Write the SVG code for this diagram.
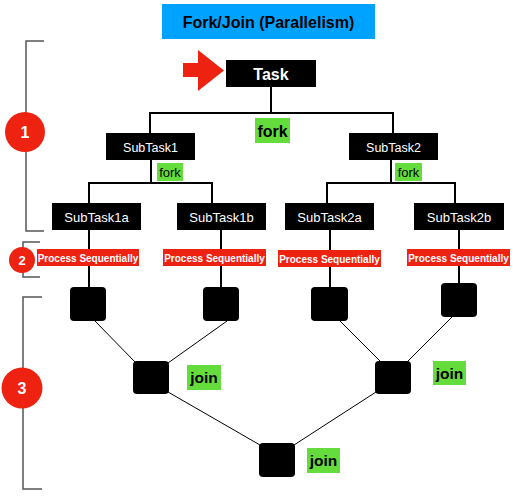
<svg xmlns="http://www.w3.org/2000/svg" width="513" height="503" viewBox="0 0 513 503">
<style>
text{font-family:"Liberation Sans",Arial,sans-serif;text-anchor:middle}
.box{fill:#000}
.wt{fill:#fff}
.bk{fill:#000}
.grn{fill:#64dd3c}
.red{fill:#ee2211}
.tree{stroke:#000;stroke-width:2;fill:none}
.diag{stroke:#000;stroke-width:1;fill:none}
.brk{stroke:#555;stroke-width:1.5;fill:none}
.sq{fill:#000}
</style>
<rect width="513" height="503" fill="#fff"/>
<g id="title">
<rect x="162" y="4" width="213" height="35" fill="#00a2ff"/>
<text x="268.5" y="28" font-size="16" font-weight="bold" class="bk">Fork/Join (Parallelism)</text>
</g>
<g id="brackets">
<path class="brk" d="M44,41 H26 V231 H44"/>
<path class="brk" d="M40,242 H23 V277 H40"/>
<path class="brk" d="M42,297 H23 V489 H42"/>
</g>
<g id="connectors">
<path class="tree" d="M271,87 V113 M150,133 V113 H393 V133"/>
<path class="tree" d="M151,160 V183 M89,203 V183 H212 V203"/>
<path class="tree" d="M391,160 V183 M327,203 V183 H455 V203"/>
<path class="tree" d="M89,230 V287 M221,230 V287 M330,230 V287 M459,230 V283"/>
<path class="diag" d="M95,321 L135,362 M227,321 L168,363 M340,321 L381,362 M452,317 L407,362 M168,392 L260,445 M376,392 L294,445"/>
</g>
<g id="marker1">
<circle cx="25" cy="132" r="20" class="red"/>
<text x="25" y="138" font-size="16" font-weight="bold" class="wt">1</text>
</g>
<g id="marker2">
<circle cx="22" cy="260" r="13" class="red"/>
<text x="22" y="265" font-size="13" font-weight="bold" class="wt">2</text>
</g>
<g id="marker3">
<circle cx="22" cy="388" r="20.5" class="red"/>
<text x="22" y="394" font-size="16" font-weight="bold" class="wt">3</text>
</g>
<g id="arrow">
<polygon points="183,63 198,63 198,50 224,70.5 198,91 198,77 183,77" fill="#ee2211"/>
</g>
<g id="task">
<rect x="226" y="60" width="90" height="27" class="box"/>
<text x="271" y="80" font-size="16" font-weight="bold" class="wt">Task</text>
</g>
<g id="fork-main">
<rect x="255" y="118" width="35" height="25" class="grn"/>
<text x="272.5" y="137" font-size="16" font-weight="bold" class="bk">fork</text>
</g>
<g id="subtask1">
<rect x="106" y="133" width="89" height="27" class="box"/>
<text x="150.5" y="152" font-size="12.5" class="wt">SubTask1</text>
</g>
<g id="subtask2">
<rect x="349" y="133" width="89" height="27" class="box"/>
<text x="393.5" y="152" font-size="12.5" class="wt">SubTask2</text>
</g>
<g id="fork1">
<rect x="157" y="163" width="26" height="18" class="grn"/>
<text x="170" y="176.5" font-size="13" class="bk">fork</text>
</g>
<g id="fork2">
<rect x="395" y="163" width="27" height="18" class="grn"/>
<text x="408.5" y="176.5" font-size="13" class="bk">fork</text>
</g>
<g id="subtask1a">
<rect x="52" y="203" width="89" height="27" class="box"/>
<text x="96.5" y="222" font-size="13" class="wt">SubTask1a</text>
</g>
<g id="subtask1b">
<rect x="177" y="203" width="89" height="27" class="box"/>
<text x="221.5" y="222" font-size="13" class="wt">SubTask1b</text>
</g>
<g id="subtask2a">
<rect x="285" y="203" width="89" height="27" class="box"/>
<text x="329.5" y="222" font-size="13" class="wt">SubTask2a</text>
</g>
<g id="subtask2b">
<rect x="414" y="203" width="90" height="27" class="box"/>
<text x="459" y="222" font-size="13" class="wt">SubTask2b</text>
</g>
<g id="seq1">
<rect x="37" y="249" width="102" height="17" class="red"/>
<text x="88" y="261.5" font-size="10" font-weight="bold" class="wt">Process Sequentially</text>
</g>
<g id="seq2">
<rect x="163" y="249" width="103" height="17" class="red"/>
<text x="214.5" y="261.5" font-size="10" font-weight="bold" class="wt">Process Sequentially</text>
</g>
<g id="seq3">
<rect x="278" y="250" width="103" height="17" class="red"/>
<text x="329.5" y="262.5" font-size="10" font-weight="bold" class="wt">Process Sequentially</text>
</g>
<g id="seq4">
<rect x="407" y="249" width="103" height="17" class="red"/>
<text x="458.5" y="261.5" font-size="10" font-weight="bold" class="wt">Process Sequentially</text>
</g>
<g id="sq1"><rect x="70" y="287" width="36" height="34" rx="4" class="sq"/></g>
<g id="sq2"><rect x="203" y="287" width="36" height="34" rx="4" class="sq"/></g>
<g id="sq3"><rect x="311" y="287" width="37" height="34" rx="4" class="sq"/></g>
<g id="sq4"><rect x="441" y="283" width="36" height="34" rx="4" class="sq"/></g>
<g id="joinL"><rect x="133" y="361" width="36" height="33" rx="4" class="sq"/></g>
<g id="joinR"><rect x="375" y="361" width="36" height="33" rx="4" class="sq"/></g>
<g id="joinB"><rect x="259" y="443" width="36" height="34" rx="4" class="sq"/></g>
<g id="join-label-L">
<rect x="187" y="365" width="34" height="25" class="grn"/>
<text x="204" y="383" font-size="15.5" font-weight="bold" class="bk">join</text>
</g>
<g id="join-label-R">
<rect x="433" y="361" width="33" height="24" class="grn"/>
<text x="449.5" y="379" font-size="15.5" font-weight="bold" class="bk">join</text>
</g>
<g id="join-label-B">
<rect x="307" y="448" width="33" height="25" class="grn"/>
<text x="323.5" y="466" font-size="15.5" font-weight="bold" class="bk">join</text>
</g>
</svg>
